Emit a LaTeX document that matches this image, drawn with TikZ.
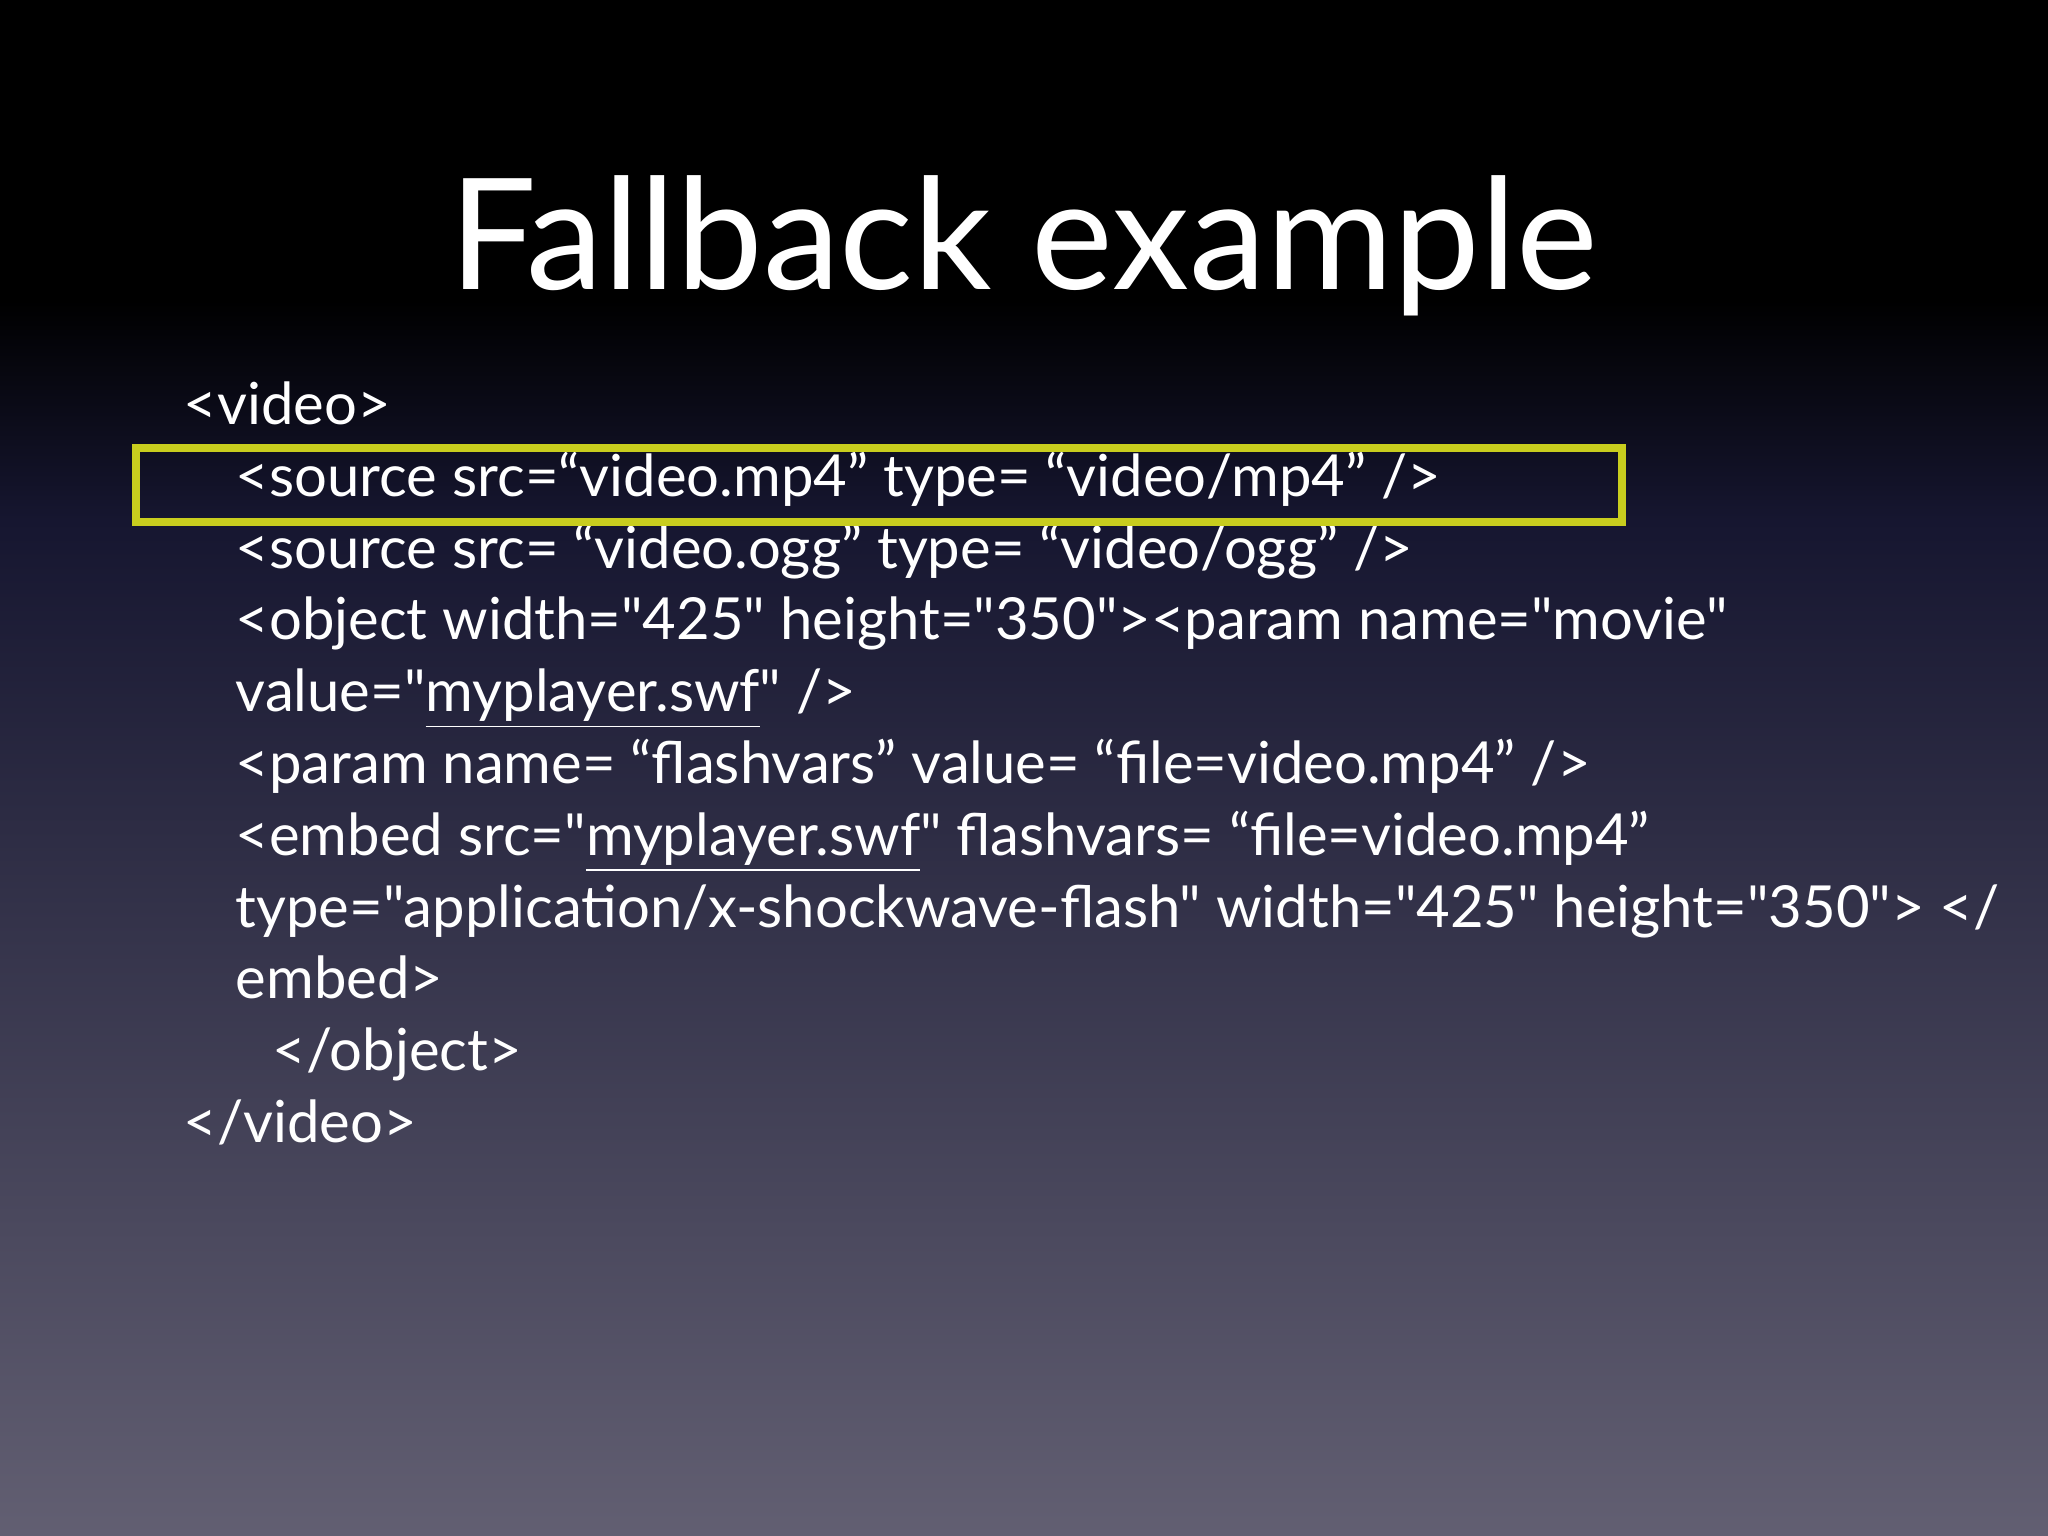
\documentclass[tikz,border=0pt]{standalone}
\usepackage{fontspec}
\setmainfont{Lato}[Ligatures=TeXOff]
\begin{document}
\begin{tikzpicture}[x=1cm,y=1cm,
  code/.style={anchor=base west,text=white,inner sep=0pt,font=\fontsize{16.5}{20}\selectfont}]
\useasboundingbox (0,0) rectangle (20.48,-15.36);
\fill[black] (0,0) rectangle (20.48,-3.0);
\shade[top color=black,bottom color={rgb,255:red,22;green,22;blue,48}] (0,-3.0) rectangle (20.48,-5.2);
\shade[top color={rgb,255:red,22;green,22;blue,48},bottom color={rgb,255:red,98;green,95;blue,114}] (0,-5.2) rectangle (20.48,-15.36);
\node[anchor=base,text=white,inner sep=0pt,font=\fontsize{44}{52}\selectfont] (title) at (10.24,-2.9) {Fallback example};
\node[code] (l1) at (1.83,-4.245) {<video>};
\node[code] (l2) at (2.35,-4.963) {<source src=“video.mp4” type= “video/mp4” />};
\node[code] (l3) at (2.35,-5.681) {<source src= “video.ogg” type= “video/ogg” />};
\node[code] (l4) at (2.35,-6.399) {<object width="425" height="350"><param name="movie"};
\node[code] (l5) at (2.35,-7.117) {value="\underline{myplayer.swf}" />};
\node[code] (l6) at (2.35,-7.835) {<param name= “flashvars” value= “file=video.mp4” />};
\node[code] (l7) at (2.35,-8.553) {<embed src="\underline{myplayer.swf}" flashvars= “file=video.mp4”};
\node[code] (l8) at (2.35,-9.271) {type="application/x-shockwave-flash" width="425" height="350"> </};
\node[code] (l9) at (2.35,-9.989) {embed>};
\node[code] (l10) at (2.72,-10.707) {</object>};
\node[code] (l11) at (1.83,-11.425) {</video>};
\draw[line width=2.5pt,draw={rgb,255:red,200;green,205;blue,30}] (1.36,-4.48) rectangle (16.22,-5.22);
\end{tikzpicture}
\end{document}
